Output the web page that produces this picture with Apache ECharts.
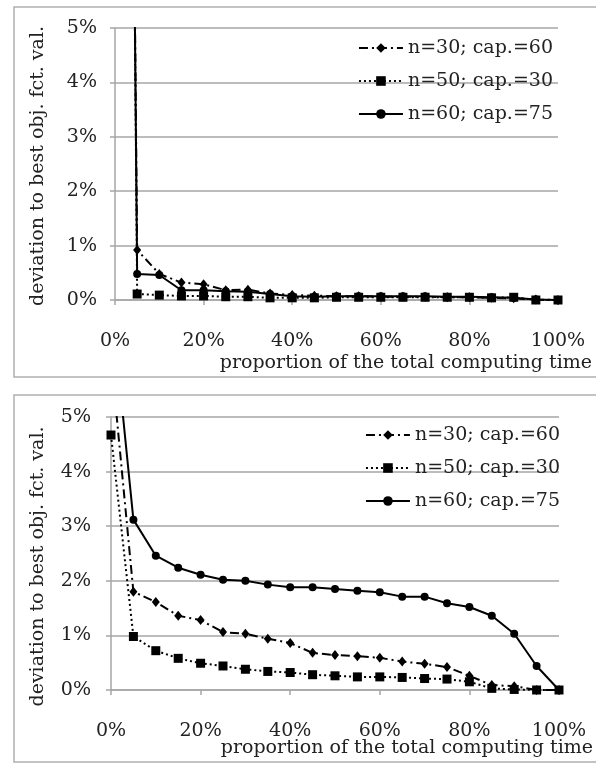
<!DOCTYPE html>
<html>
<head>
<meta charset="utf-8">
<script src="https://cdn.jsdelivr.net/npm/echarts@6/dist/echarts.min.js"></script>
<style>
html,body{margin:0;padding:0;background:#fff;}
#c{width:596px;height:765px;}
</style>
</head>
<body>
<div id="c"></div>
<script>
// x positions (proportion of total computing time, %)
const xValues = [0,5,10,15,20,25,30,35,40,45,50,55,60,65,70,75,80,85,90,95,100];
const seriesNames = ['n=30; cap.=60', 'n=50; cap.=30', 'n=60; cap.=75'];
const yTicks = [0,1,2,3,4,5];
const xTicks = [0,20,40,60,80,100];

// Top chart (deviation in %)
const topN30 = [44, 0.92, 0.48, 0.32, 0.29, 0.18, 0.19, 0.12, 0.09, 0.08, 0.07, 0.07, 0.06, 0.06, 0.06, 0.05, 0.05, 0.04, 0.03, 0.01, 0];
const topN50 = [48, 0.11, 0.09, 0.075, 0.075, 0.06, 0.06, 0.04, 0.04, 0.04, 0.05, 0.05, 0.05, 0.05, 0.05, 0.05, 0.05, 0.04, 0.05, 0.0, 0];
const topN60 = [46, 0.48, 0.46, 0.18, 0.18, 0.16, 0.15, 0.11, 0.07, 0.06, 0.07, 0.07, 0.07, 0.07, 0.07, 0.06, 0.06, 0.05, 0.04, 0.01, 0];

// Bottom chart (deviation in %)
const botN30 = [6.1, 1.80, 1.61, 1.36, 1.28, 1.06, 1.03, 0.94, 0.86, 0.68, 0.64, 0.62, 0.59, 0.52, 0.48, 0.42, 0.26, 0.09, 0.07, 0, 0];
const botN50 = [4.67, 0.98, 0.72, 0.58, 0.49, 0.44, 0.38, 0.34, 0.32, 0.28, 0.26, 0.24, 0.24, 0.23, 0.21, 0.20, 0.15, 0.03, 0.01, 0, 0];
const botN60 = [7.2, 3.12, 2.46, 2.24, 2.11, 2.02, 2.00, 1.93, 1.88, 1.88, 1.85, 1.82, 1.79, 1.71, 1.71, 1.59, 1.52, 1.36, 1.03, 0.44, 0];

const FONT = 'DejaVu Serif';
const TXT = '#222';
const GRID_C = '#a6a6a6';

function pairs(ys){ return xValues.map((x,i)=>[x, ys[i]]); }

const styles = [
  {symbol:'diamond', symbolSize:[8,10], lineType:[9,4,2,4]},
  {symbol:'rect', symbolSize:9, lineType:[2,3]},
  {symbol:'circle', symbolSize:8, lineType:'solid'}
];

function mkSeries(dataArrs, gi){
  return dataArrs.map((arr,i)=>({
    name: seriesNames[i],
    type:'line',
    xAxisIndex: gi, yAxisIndex: gi,
    data: pairs(arr),
    symbol: styles[i].symbol,
    symbolSize: styles[i].symbolSize,
    showSymbol: true,
    clip: true,
    animation: false,
    itemStyle:{color:'#000'},
    lineStyle:{color:'#000', width:2, type: styles[i].lineType}
  }));
}

function mkX(gi, nameGapTop){
  return {
    type:'value', gridIndex: gi, min:0, max:100, interval:20,
    nameMoveOverlap:false,
    axisLine:{show:true, lineStyle:{color:GRID_C, width:1.5}},
    axisTick:{show:true, length:5, lineStyle:{color:GRID_C, width:1.5}},
    splitLine:{show:false},
    axisLabel:{formatter:'{value}%', color:TXT, fontFamily:FONT, fontSize:19, margin:32},
    name:'proportion of the total computing time',
    nameLocation:'end', nameGap:34,
    nameTextStyle:{color:TXT, fontFamily:FONT, fontSize:19, align:'right', verticalAlign:'top', padding:[nameGapTop,0,0,0]}
  };
}
function mkY(gi, labelMargin, nameGap, namePad){
  return {
    type:'value', gridIndex: gi, min:0, max:5, interval:1,
    nameMoveOverlap:false,
    axisLine:{show:true, lineStyle:{color:GRID_C, width:1.5}},
    axisTick:{show:true, length:5, lineStyle:{color:GRID_C, width:1.5}},
    splitLine:{show:true, lineStyle:{color:GRID_C, width:1.5}},
    axisLabel:{formatter:'{value}%', color:TXT, fontFamily:FONT, fontSize:19, margin:labelMargin},
    name:'deviation to best obj. fct. val.',
    nameLocation:'middle', nameGap:nameGap,
    nameTextStyle:{color:TXT, fontFamily:FONT, fontSize:19, padding:namePad}
  };
}
function mkLegend(top, right){
  return {
    data: seriesNames, orient:'vertical', top: top, right: right,
    itemWidth:44, itemHeight:12, itemGap:13,
    textStyle:{color:TXT, fontFamily:FONT, fontSize:19, lineHeight:20},
    selectedMode:false
  };
}

const chart = echarts.init(document.getElementById('c'), null, {renderer:'canvas'});
chart.setOption({
  backgroundColor:'#fff',
  animation:false,
  graphic:[
    {type:'rect', shape:{x:14, y:7, width:600, height:370}, style:{fill:'none', stroke:'#b0b0b0', lineWidth:1.5}, z:-1},
    {type:'rect', shape:{x:14, y:395, width:600, height:367}, style:{fill:'none', stroke:'#b0b0b0', lineWidth:1.5}, z:-1}
  ],
  grid:[
    {left:115, top:28, width:443, height:272, containLabel:false, outerBoundsMode:'none'},
    {left:111, top:417, width:448, height:273, containLabel:false, outerBoundsMode:'none'}
  ],
  xAxis:[mkX(0, 54), mkX(1, 49)],
  yAxis:[mkY(0, 18, 67, [0,4,0,0]), mkY(1, 20, 63, [0,26,0,0])],
  legend:[mkLegend(33, 38), mkLegend(420, 31)],
  series: mkSeries([topN30, topN50, topN60], 0).concat(mkSeries([botN30, botN50, botN60], 1))
});
</script>
</body>
</html>
